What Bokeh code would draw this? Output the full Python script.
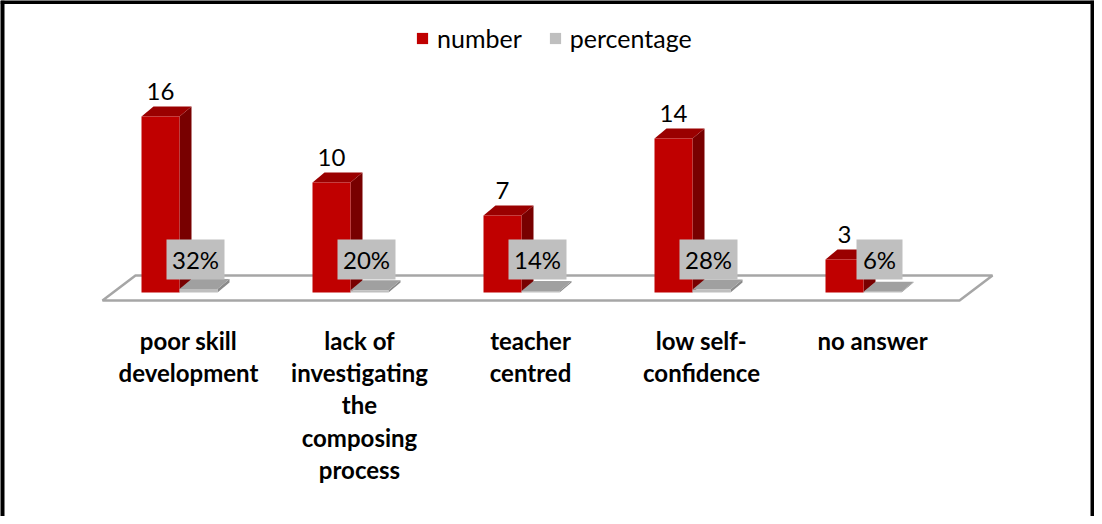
from bokeh.plotting import figure
from bokeh.models import Range1d, Span, Legend, LegendItem, ColumnDataSource
from bokeh.embed import file_html
from bokeh.resources import INLINE
from bokeh.core.properties import value

# ---- data ----
categories = ["poor skill\ndevelopment",
              "lack of\ninvestigating\nthe\ncomposing\nprocess",
              "teacher\ncentred",
              "low self-\nconfidence",
              "no answer"]
number = [16, 10, 7, 14, 3]
percentage = [0.32, 0.20, 0.14, 0.28, 0.06]
pct_labels = ["32%", "20%", "14%", "28%", "6%"]
num_labels = [str(v) for v in number]

# ---- layout constants ----
W, H = 1094, 516
PX_X = 171.0   # px per category
PX_Y = 11.0    # px per value unit
X0_PX = 188.0  # frame px of first category centre
Y0_PX = 292.0  # frame px (from top) of value 0

x_start = -X0_PX / PX_X
x_end = x_start + W / PX_X
y_end = Y0_PX / PX_Y
y_start = y_end - H / PX_Y


def ux(px):
    return px / PX_X


def uy(px):
    return px / PX_Y


DX, DY = ux(12), uy(10)  # 3-D depth offset

RED_F, RED_T, RED_S = "#C00000", "#9A0000", "#780000"
GRY_F, GRY_T, GRY_S = "#BFBFBF", "#A0A0A0", "#8A8A8A"

p = figure(width=W, height=H, x_range=Range1d(x_start, x_end),
           y_range=Range1d(y_start, y_end), output_backend="svg",
           toolbar_location=None, min_border=0,
           x_axis_location=None, y_axis_location=None)
p.grid.visible = False
p.outline_line_color = None
p.background_fill_color = "white"
p.border_fill_color = "white"

n = len(categories)
idx = list(range(n))

# ---- floor ----
fl_front_l = ux(-86)
fl_front_r = (n - 1) + ux(87)
fl_dx, fl_dy = ux(33), uy(25)
fy = uy(-8)
p.patch([fl_front_l, fl_front_r, fl_front_r + fl_dx, fl_front_l + fl_dx],
        [fy, fy, fy + fl_dy, fy + fl_dy],
        fill_color="white", line_color="#A6A6A6", line_width=2.5)


def bars(vals, left_px, right_px, cf, ct, cs):
    x0 = [i + ux(left_px) for i in idx]
    x1 = [i + ux(right_px) for i in idx]
    side_xs = [[b, b + DX, b + DX, b] for b in x1]
    side_ys = [[0, DY, v + DY, v] for v in vals]
    top_xs = [[a, a + DX, b + DX, b] for a, b in zip(x0, x1)]
    top_ys = [[v, v + DY, v + DY, v] for v in vals]
    p.patches(side_xs, side_ys, fill_color=cs, line_color=None)
    p.patches(top_xs, top_ys, fill_color=ct, line_color=None)
    return p.quad(left=x0, right=x1, bottom=[0] * n, top=vals,
                  fill_color=cf, line_color=None)


r_num = bars(number, -47, -9, RED_F, RED_T, RED_S)
r_pct = bars(percentage, -9, 29, GRY_F, GRY_T, GRY_S)

# ---- percentage label boxes ----
box_src = ColumnDataSource(dict(
    x=[i + ux(7) for i in idx],
    y=[uy(33)] * n,
    w=[22 + 12 * len(s) for s in pct_labels],
    t=pct_labels))
p.rect(x="x", y="y", width="w", height=40, width_units="screen",
       height_units="screen", source=box_src, fill_color="#BFBFBF",
       line_color=None)
p.text(x="x", y="y", text="t", source=box_src, text_align="center",
       text_baseline="middle", text_font=value("Lato"),
       text_font_size="24px", text_color="black")

# ---- number labels ----
p.text(x=[i + ux(-28) for i in idx], y=[v + uy(25) for v in number],
       text=num_labels, text_align="center", text_baseline="alphabetic",
       text_font=value("Lato"), text_font_size="24px", text_color="black")

# ---- category labels ----
p.text(x=idx, y=[uy(-33)] * n, text=categories, text_align="center",
       text_baseline="top", text_font=value("Lato"), text_font_size="24px",
       text_font_style="bold", text_line_height=1.12, text_color="black")

# ---- legend ----
legend = Legend(items=[LegendItem(label="number", renderers=[r_num]),
                       LegendItem(label="percentage", renderers=[r_pct])],
                orientation="horizontal", location=(415, 463),
                glyph_width=14, glyph_height=14, label_standoff=8,
                spacing=26, padding=0, margin=0,
                label_text_font="Lato", label_text_font_size="25px",
                label_text_color="black",
                border_line_color=None, background_fill_alpha=0)
p.add_layout(legend)

# ---- chart border (left, top, right) ----
p.add_layout(Span(location=x_start + ux(1.5), dimension="height",
                  line_color="black", line_width=5))
p.add_layout(Span(location=x_start + ux(1092), dimension="height",
                  line_color="black", line_width=4))
p.add_layout(Span(location=y_end - uy(1), dimension="width",
                  line_color="black", line_width=5))

open("out.html", "w").write(file_html(p, INLINE))
